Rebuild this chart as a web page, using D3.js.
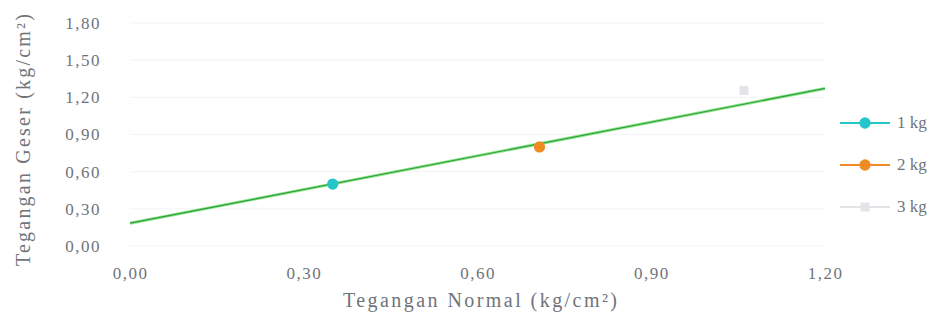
<!DOCTYPE html>
<html><head><meta charset="utf-8">
<script src="https://cdn.jsdelivr.net/npm/d3@7"></script>
<style>body{margin:0;background:#fff;}svg{display:block;}</style>
</head><body><svg id="c" width="937" height="327"></svg>
<script>
const seriesNames = ["1 kg", "2 kg", "3 kg"];
const normalStress = [0.35, 0.707, 1.06];
const shearStress = [0.50, 0.80, 1.255];
const seriesColors = ["#25c6c9", "#f08a24", "#e4e4e8"];
const seriesSymbols = ["circle", "circle", "square"];
const trendX = [0.0, 1.2];
const trendY = [0.184, 1.272];
const xTicks = [0, 0.3, 0.6, 0.9, 1.2];
const yTicks = [0, 0.3, 0.6, 0.9, 1.2, 1.5, 1.8];
const xTitle = "Tegangan Normal (kg/cm²)";
const yTitle = "Tegangan Geser (kg/cm²)";

const svg = d3.select("#c");
const fmt = d => d3.format(".2f")(d).replace(".", ",");
const x = d3.scaleLinear().domain([0, 1.2]).range([130, 825]);
const y = d3.scaleLinear().domain([0, 1.8]).range([246, 23]);
const font = "'Liberation Serif','Times New Roman',serif";
const txt = "#70747a";

// gridlines
svg.append("g").selectAll("line").data(yTicks).join("line")
  .attr("x1", x(0)).attr("x2", x(1.2))
  .attr("y1", d => y(d)).attr("y2", d => y(d))
  .attr("stroke", "#f3f3f3").attr("stroke-width", 1);

// axes
const xa = svg.append("g").attr("transform", `translate(0,${y(0)})`)
  .call(d3.axisBottom(x).tickValues(xTicks).tickFormat(fmt).tickSize(0).tickPadding(21));
xa.select(".domain").remove();
xa.selectAll("text").attr("font-family", font).attr("font-size", 17)
  .attr("letter-spacing", "1.5px").attr("fill", txt);

const ya = svg.append("g").attr("transform", `translate(${x(0)},0)`)
  .call(d3.axisLeft(y).tickValues(yTicks).tickFormat(fmt).tickSize(0).tickPadding(29));
ya.select(".domain").remove();
ya.selectAll("text").attr("font-family", font).attr("font-size", 17)
  .attr("letter-spacing", "1.5px").attr("fill", txt);

// trendline
svg.append("line")
  .attr("x1", x(trendX[0])).attr("y1", y(trendY[0]))
  .attr("x2", x(trendX[1])).attr("y2", y(trendY[1]))
  .attr("stroke", "#8ee68a").attr("stroke-width", 3);
svg.append("line")
  .attr("x1", x(trendX[0])).attr("y1", y(trendY[0]))
  .attr("x2", x(trendX[1])).attr("y2", y(trendY[1]))
  .attr("stroke", "#2e9e3e").attr("stroke-width", 1.2);

// points
const sym = s => d3.symbol().type(s === "square" ? d3.symbolSquare : d3.symbolCircle).size(s === "square" ? 80 : 100)();
svg.append("g").selectAll("path").data(seriesNames.map((n, i) => i)).join("path")
  .attr("transform", i => `translate(${x(normalStress[i])},${y(shearStress[i])})`)
  .attr("d", i => sym(seriesSymbols[i]))
  .attr("fill", i => seriesColors[i]);

// legend
const lg = svg.append("g");
seriesNames.forEach((n, i) => {
  const ly = 123 + i * 42;
  lg.append("line").attr("x1", 840).attr("x2", 890).attr("y1", ly).attr("y2", ly)
    .attr("stroke", seriesColors[i]).attr("stroke-width", 2);
  lg.append("path").attr("transform", `translate(865,${ly})`).attr("d", sym(seriesSymbols[i]))
    .attr("fill", seriesColors[i]);
  lg.append("text").attr("x", 897).attr("y", ly + 5).text(n)
    .attr("font-family", font).attr("font-size", 17).attr("fill", txt);
});

// titles
svg.append("text").attr("x", 480).attr("y", 307).attr("text-anchor", "middle")
  .attr("font-family", font).attr("font-size", 20).attr("fill", txt)
  .attr("textLength", 274).attr("lengthAdjust", "spacing").text(xTitle);
svg.append("text").attr("transform", "translate(30,140) rotate(-90)").attr("text-anchor", "middle")
  .attr("font-family", font).attr("font-size", 20).attr("fill", txt)
  .attr("textLength", 252).attr("lengthAdjust", "spacing").text(yTitle);
</script></body></html>
